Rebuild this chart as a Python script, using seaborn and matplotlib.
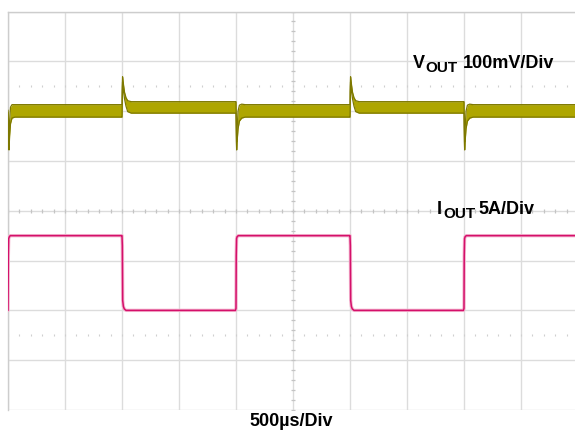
import numpy as np
import pandas as pd
import matplotlib
matplotlib.use("Agg")
import matplotlib.pyplot as plt
import seaborn as sns

# ---------------- data read from the scope capture ----------------
# load current (A), 5 A/div, zero at 2 div from the bottom
i_time_us = [0, 3, 6, 12, 20, 995, 1000, 1003, 1006, 1012, 1020, 1035,
             1995, 2000, 2002, 2005, 2010, 2020, 2995, 3000, 3003, 3006,
             3012, 3020, 3035, 3995, 4000, 4002, 4005, 4010, 4020, 4974]
i_amp = [0.0, 5.5, 7.2, 7.4, 7.5, 7.5, 7.5, 6.5, 1.0, 0.4, 0.15, 0.0,
         0.0, 0.2, 5.5, 7.2, 7.4, 7.5, 7.5, 7.5, 6.5, 1.0,
         0.4, 0.15, 0.0, 0.0, 0.2, 5.5, 7.2, 7.4, 7.5, 7.5]

# output voltage deviation (mV), 100 mV/div, nominal at 6 div from bottom
# upper / lower envelope of the noisy trace
v_time_us = [0, 4, 9, 14, 22, 35, 60, 995, 1000, 1001, 1005, 1012, 1022,
             1035, 1050, 1080, 1995, 2000, 2003, 2006, 2010, 2018, 2030,
             2050, 2080, 2995, 3000, 3001, 3005, 3012, 3022, 3035, 3050,
             3080, 3995, 4000, 4003, 4006, 4010, 4018, 4030, 4050, 4080,
             4974]
v_upper_mv = [2, -40, -65, -20, 8, 13, 13, 13, 13, 40, 69, 55, 38,
              27, 21, 19, 19, 19, -30, -62, -35, 0, 12,
              14, 13, 13, 13, 40, 69, 55, 38, 27, 21,
              19, 19, 19, -30, -62, -35, 0, 12, 14, 13,
              13]
v_lower_mv = [-2, -50, -78, -50, -25, -14, -12, -12, -12, -5, 58, 42, 25,
              10, -1, -4, -4, -4, -60, -78, -60, -35, -20,
              -14, -12, -12, -12, -5, 58, 42, 25, 10, -1,
              -4, -4, -4, -60, -78, -60, -35, -20, -14, -12,
              -12]

labels = {"v": ("V", "OUT", "100mV/Div"),
          "i": ("I", "OUT", "5A/Div"),
          "t": "500µs/Div"}

# ---------------- figure ----------------
sns.set_theme(style="white")
plt.rcParams["font.family"] = ["Liberation Sans", "DejaVu Sans"]

W, H = 575, 430
fig = plt.figure(figsize=(W / 100, H / 100), dpi=100)
fig.patch.set_facecolor("white")

x0, ytop, ybot = 8, 11.5, 410
pos = [x0 / W, (H - ybot) / H, (W - x0) / W, (ybot - ytop) / H]
ax = fig.add_axes(pos)
ax2 = ax.twinx()
ax2.set_position(pos)

us_per_div = 500
xmax = (W - x0) / 57 * us_per_div
ax.set_xlim(0, xmax)
ax.set_ylim(-10, 30)        # current axis: 5 A/div, 8 divs
ax2.set_ylim(-600, 200)     # voltage axis: 100 mV/div, 8 divs

grid_c = "#dcdcdc"
ax.set_xticks(np.arange(0, 5001, us_per_div))
ax.set_yticks(np.arange(-10, 31, 5))
ax.grid(True, color=grid_c, lw=1)
ax.set_axisbelow(True)
ax.tick_params(length=0, labelleft=False, labelbottom=False)
ax.set_facecolor("white")
for s in ["bottom", "right"]:
    ax.spines[s].set_visible(False)
for s in ["top", "left"]:
    ax.spines[s].set_color("#cdcdcd")
    ax.spines[s].set_linewidth(1)
ax2.grid(False)
ax2.set_yticks([])
for s in ax2.spines.values():
    s.set_visible(False)

# center-line minor ticks and dotted reference rows
minor_x = np.arange(0, xmax, 100)
ax.plot(minor_x, np.full_like(minor_x, 10.0), ls="none", marker="|",
        ms=3.5, mew=0.9, color="#c4c4c4", zorder=1)
minor_y = np.arange(-10, 30.01, 1)
ax.plot(np.full_like(minor_y, 2500.0), minor_y, ls="none", marker="_",
        ms=3.5, mew=0.9, color="#c4c4c4", zorder=1)
for yy in (-2.5, 22.5):
    ax.plot(minor_x, np.full_like(minor_x, yy), ls="none", marker="|",
            ms=1.8, mew=0.8, color="#cfcfcf", zorder=1)

# current trace
cur = pd.DataFrame({"t": i_time_us, "i": i_amp})
sns.lineplot(data=cur, x="t", y="i", ax=ax, color="#f4b4cf", lw=2.4,
             sort=False, zorder=3)
sns.lineplot(data=cur, x="t", y="i", ax=ax, color="#d4106a", lw=1.1,
             sort=False, zorder=4)

# voltage trace (noisy band)
volt = pd.DataFrame({"t": v_time_us, "hi": v_upper_mv, "lo": v_lower_mv})
ax2.fill_between(volt["t"], volt["lo"], volt["hi"], color="#aea600",
                 lw=0, zorder=3)
sns.lineplot(data=volt, x="t", y="hi", ax=ax2, color="#7d7800", lw=0.9,
             sort=False, zorder=4)
sns.lineplot(data=volt, x="t", y="lo", ax=ax2, color="#7d7800", lw=0.9,
             sort=False, zorder=4)

ax.set_xlabel("")
ax.set_ylabel("")
ax2.set_xlabel("")
ax2.set_ylabel("")
ax.set_xlim(0, xmax)
ax2.set_xlim(0, xmax)
ax2.set_ylim(-600, 200)


def ftext(px, py, s, size=13):
    fig.text(px / W, 1 - py / H, s, fontsize=size, fontweight="bold",
             color="black", ha="left", va="baseline")


v_main, v_sub, v_scale = labels["v"]
ftext(413, 68, v_main)
ftext(425.5, 72, v_sub, 11)
ftext(463, 68, v_scale)

i_main, i_sub, i_scale = labels["i"]
ftext(437, 214, i_main)
ftext(443, 218, i_sub, 11)
ftext(478, 214, i_scale)

ftext(249, 426, labels["t"])

fig.savefig("out.png", dpi=100)
